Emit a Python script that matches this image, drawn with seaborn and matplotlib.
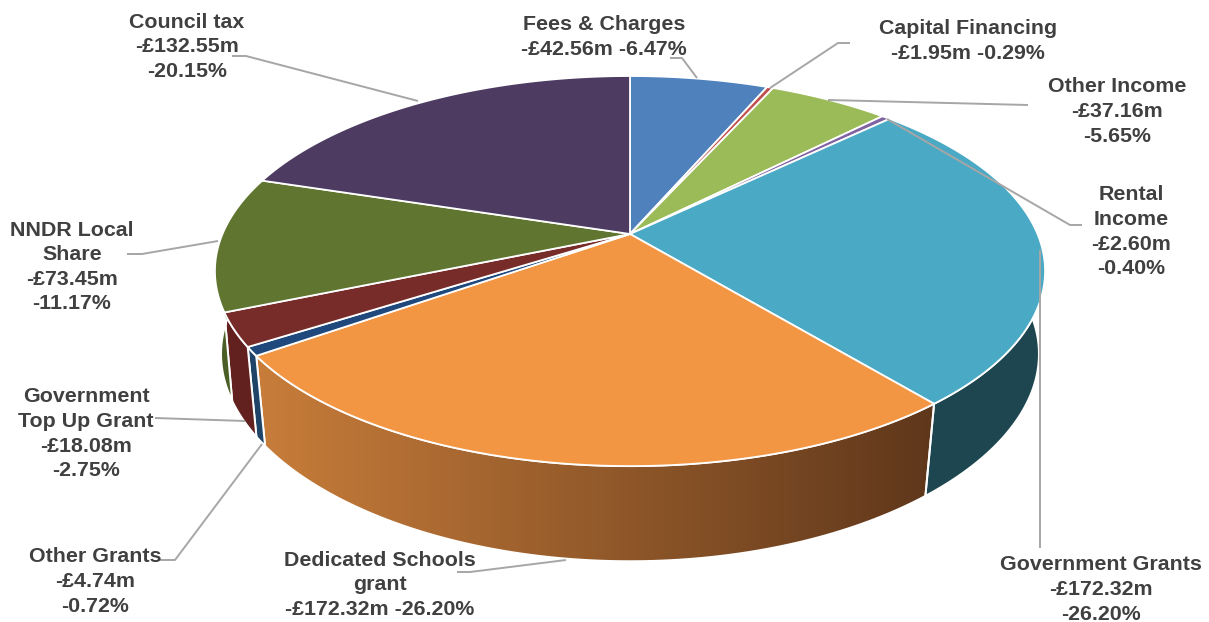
import numpy as np
import matplotlib
matplotlib.use("Agg")
import matplotlib.pyplot as plt
from matplotlib.colors import to_rgb
from matplotlib.patches import Polygon
import seaborn as sns

# Income breakdown, clockwise from twelve o'clock
names = ["Fees & Charges", "Capital Financing", "Other Income", "Rental Income",
         "Government Grants", "Dedicated Schools grant", "Other Grants",
         "Government Top Up Grant", "NNDR Local Share", "Council tax"]
amounts = [42.56, 1.95, 37.16, 2.60, 172.32, 172.32, 4.74, 18.08, 73.45, 132.55]
percents = [6.47, 0.29, 5.65, 0.40, 26.20, 26.20, 0.72, 2.75, 11.17, 20.15]

top_colors = sns.color_palette(["#4F81BD", "#C0504D", "#9BBB59", "#8064A2", "#4AA9C4",
                                "#F39644", "#1F497D", "#772C2A", "#5F7530", "#4D3B62"])
side_colors = sns.color_palette(["#2F4D71", "#73302E", "#5D7035", "#4D3C61", "#1E4650",
                                 "#C87D3A", "#1F4468", "#62211F", "#4A5E25", "#2E233B"])
gradient_end = "#5F371B"

sns.set_theme(style="white")
plt.rcParams["font.family"] = ["Liberation Sans", "DejaVu Sans"]

# Perspective projection of the disc:
# (width, height, horizontal foreshortening, vertical foreshortening, centre y)
TOP_FACE = (407.5, 188.0, 0.19, 0.19, 234.0)
BASE_FACE = (403.0, 193.0, 0.17, 0.20, 320.0)
CENTRE_X = 630.0


def project(theta, face):
    a, b, kx, ky, cy = face
    return np.column_stack([CENTRE_X + a * np.sin(theta) / (1 + kx * np.cos(theta)),
                            cy - b * np.cos(theta) / (1 + ky * np.cos(theta))])


fig = plt.figure(figsize=(12.09, 6.22), dpi=100)
ax = fig.add_axes([0, 0, 1, 1])

edges = 2 * np.pi * np.concatenate([[0], np.cumsum(percents)]) / np.sum(percents)
visible_from, visible_to = np.radians(85), np.radians(275)

# Rim of the disc, only the part facing the viewer
for i, color in enumerate(side_colors):
    lo, hi = max(edges[i], visible_from), min(edges[i + 1], visible_to)
    if lo >= hi:
        continue
    t = np.linspace(lo, hi, 80)
    outline = np.vstack([project(t, TOP_FACE), project(t[::-1], BASE_FACE)])
    if names[i].startswith("Dedicated"):
        ramp = np.linspace(to_rgb(color), to_rgb(gradient_end), 256)[None, :, :]
        x0, x1 = outline[:, 0].min(), outline[:, 0].max()
        y0, y1 = outline[:, 1].min(), outline[:, 1].max()
        img = ax.imshow(ramp, extent=(x0, x1, y1, y0), aspect="auto", zorder=1,
                        interpolation="bilinear")
        img.set_clip_path(Polygon(outline, transform=ax.transData))
        ax.add_patch(Polygon(outline, closed=True, fill=False, edgecolor="white",
                             linewidth=1.4, zorder=2))
    else:
        ax.add_patch(Polygon(outline, closed=True, facecolor=color, edgecolor="white",
                             linewidth=1.4, zorder=2))

# Top face of the disc
for i, color in enumerate(top_colors):
    t = np.linspace(edges[i], edges[i + 1], 160)
    outline = np.vstack([[CENTRE_X, TOP_FACE[4]], project(t, TOP_FACE)])
    ax.add_patch(Polygon(outline, closed=True, facecolor=color, edgecolor="white",
                         linewidth=1.3, zorder=3))

# Data labels, each with its leader line
LEADER = "#A6A6A6"
TEXT = "#404040"
label_lines = [
    ("{n}\n{a} {p}", 604, 25),
    ("{n}\n{a} {p}", 968, 29),
    ("{n}\n{a}\n{p}", 1117, 87),
    ("Rental\nIncome\n{a}\n{p}", 1131, 195),
    ("{n}\n{a}\n{p}", 1101, 565),
    ("Dedicated Schools\ngrant\n{a} {p}", 380, 560),
    ("{n}\n{a}\n{p}", 95, 557),
    ("Government\nTop Up Grant\n{a}\n{p}", 86, 397),
    ("NNDR Local\nShare\n{a}\n{p}", 72, 230),
    ("{n}\n{a}\n{p}", 187, 22),
]
leader_paths = [
    [(670, 58), (682, 58), (697, 78)],
    [(850, 43), (838, 43), (770, 88)],
    [(1028, 105), (828, 100)],
    [(887, 119), (1070, 225), (1082, 225)],
    [(1040, 250), (1040, 548)],
    [(566, 560), (470, 572), (457, 572)],
    [(160, 560), (175, 560), (262, 444)],
    [(155, 418), (245, 421)],
    [(127, 254), (142, 254), (218, 241)],
    [(232, 56), (246, 56), (418, 101)],
]
for path in leader_paths:
    xs, ys = zip(*path)
    ax.plot(xs, ys, color=LEADER, linewidth=1.4, zorder=4, solid_capstyle="butt")

for name, amount, pct, (template, x, y) in zip(names, amounts, percents, label_lines):
    text = template.format(n=name, a=f"-£{amount:.2f}m", p=f"-{pct:.2f}%")
    for j, line in enumerate(text.split("\n")):
        ax.text(x, y + j * 24.6, line, ha="center", va="center", color=TEXT,
                fontsize=15.4, fontweight="bold", zorder=5)

ax.set_xlim(0, 1209)
ax.set_ylim(622, 0)
ax.axis("off")
fig.savefig("out.png", dpi=100, facecolor="white")
